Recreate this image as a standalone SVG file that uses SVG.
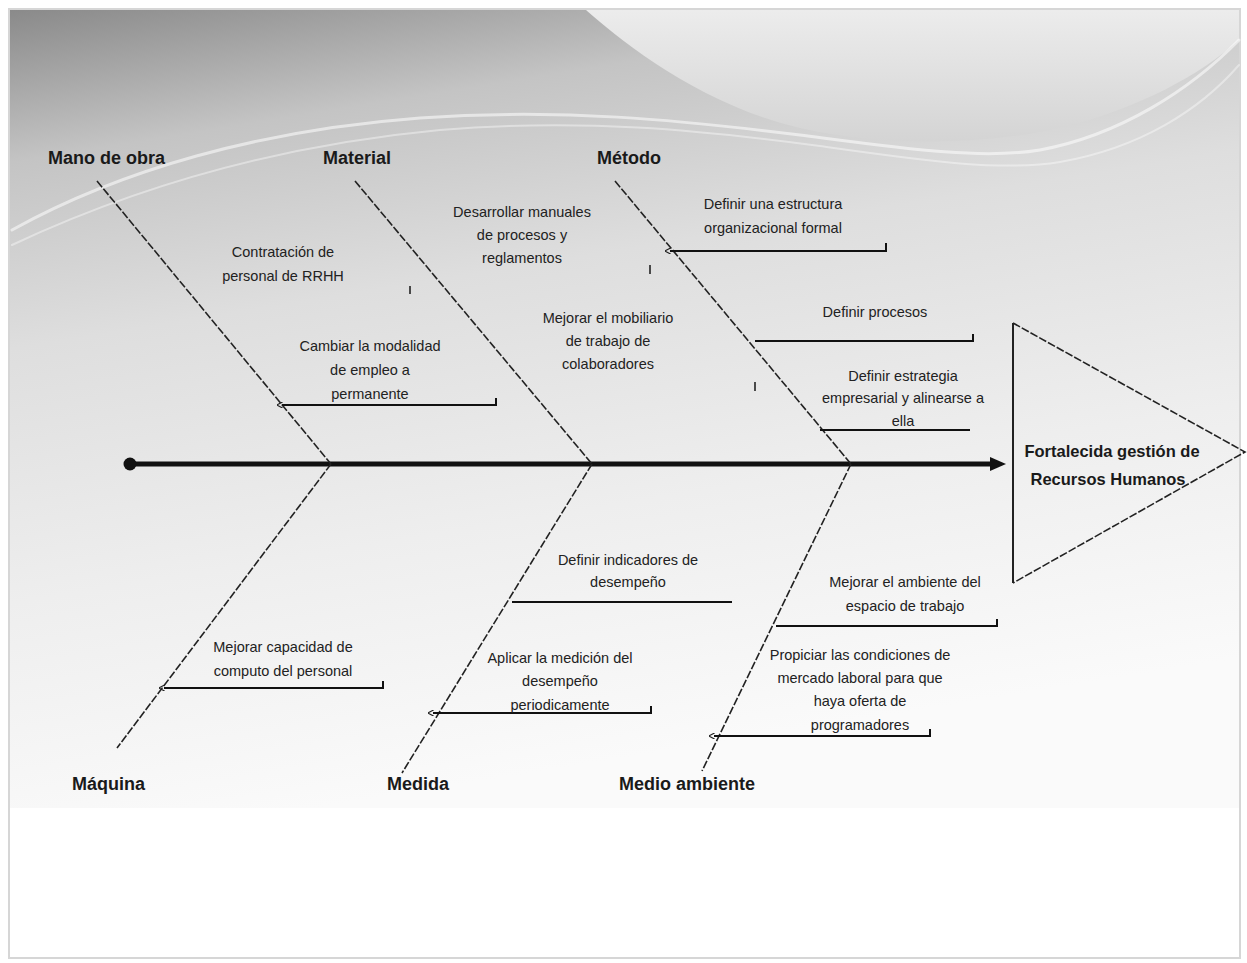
<svg xmlns="http://www.w3.org/2000/svg" width="1247" height="963" viewBox="0 0 1247 963">
<defs>
<style>
.cat{font-family:"Liberation Sans",Arial,sans-serif;font-size:18px;font-weight:bold;fill:#1a1a1a}
.sub{font-family:"Liberation Sans",Arial,sans-serif;font-size:14.5px;fill:#222;text-anchor:middle}
.head{font-family:"Liberation Sans",Arial,sans-serif;font-size:16.5px;font-weight:bold;fill:#1a1a1a;text-anchor:middle}
.bone{stroke:#222;stroke-width:1.6;fill:none;stroke-dasharray:8 2}
.br{stroke:#111;stroke-width:2;fill:none;marker-start:url(#sa)}
.br2{stroke:#111;stroke-width:2;fill:none}
.tick{stroke:#222;stroke-width:1.6}
.streak{fill:none;stroke:#ffffff;stroke-linecap:round}
</style>
<linearGradient id="bg" x1="0" y1="0" x2="0.25" y2="1">
<stop offset="0" stop-color="#8a8a8a"/>
<stop offset="0.18" stop-color="#c4c4c4"/>
<stop offset="0.4" stop-color="#dedede"/>
<stop offset="0.7" stop-color="#eeeeee"/>
<stop offset="1" stop-color="#fafafa"/>
</linearGradient>
<linearGradient id="tr" x1="0" y1="0" x2="0" y2="1">
<stop offset="0" stop-color="#ececec"/>
<stop offset="1" stop-color="#d4d4d4"/>
</linearGradient>
<marker id="sa" viewBox="0 0 10 10" refX="1" refY="5" markerWidth="6" markerHeight="6" orient="auto-start-reverse" markerUnits="userSpaceOnUse">
<path d="M0,0 L10,5 L0,10" fill="none" stroke="#222" stroke-width="2"/>
</marker>
<marker id="ma" viewBox="0 0 16 14" refX="4" refY="7" markerWidth="16" markerHeight="14" orient="auto" markerUnits="userSpaceOnUse">
<path d="M0,0 L16,7 L0,14 Z" fill="#111"/>
</marker>
</defs>

<g id="background">
<rect x="0" y="0" width="1247" height="963" fill="#ffffff"/>
<rect x="9" y="9" width="1231" height="949" fill="#ffffff" stroke="#d6d6d6" stroke-width="2"/>
<rect x="10" y="10" width="1229" height="798" fill="url(#bg)"/>
<path d="M586,10 C620,40 700,105 800,128 C880,146 980,146 1060,128 C1140,108 1200,75 1239,40 L1239,10 Z" fill="url(#tr)"/>
<path class="streak" stroke-width="3" opacity="0.55" d="M12,230 C120,170 260,130 420,118 C560,108 680,120 800,135 C900,148 980,160 1040,150 C1120,135 1190,90 1239,40"/>
<path class="streak" stroke-width="2" opacity="0.4" d="M12,245 C140,185 280,145 440,130 C580,118 700,130 820,146 C920,160 1000,172 1060,162 C1140,148 1200,110 1239,65"/>
</g>

<g id="connectors">
<line x1="130" y1="464" x2="994" y2="464" stroke="#111" stroke-width="5" marker-end="url(#ma)"/>
<circle cx="130" cy="464" r="6.5" fill="#111"/>
<line class="bone" x1="97" y1="181" x2="331" y2="464"/>
<line class="bone" x1="355" y1="181" x2="592" y2="464"/>
<line class="bone" x1="615" y1="181" x2="851" y2="464"/>
<line class="bone" x1="331" y1="464" x2="117" y2="748"/>
<line class="bone" x1="592" y1="464" x2="402" y2="773"/>
<line class="bone" x1="851" y1="464" x2="702" y2="771"/>
<path class="br" d="M282,405 H496 V398"/>
<path class="br" d="M670,251 H886 V243"/>
<path class="br2" d="M755,341 H973 V334"/>
<path class="br2" d="M820,430 H970"/>
<path class="br" d="M164,688 H383 V681"/>
<path class="br2" d="M512,602 H732"/>
<path class="br" d="M433,713 H651 V706"/>
<path class="br2" d="M776,626 H997 V619"/>
<path class="br" d="M714,736 H930 V729"/>
<line class="tick" x1="410" y1="286" x2="410" y2="294"/>
<line class="tick" x1="650" y1="265" x2="650" y2="274"/>
<line class="tick" x1="755" y1="382" x2="755" y2="391"/>
</g>

<g id="head">
<line x1="1013" y1="323" x2="1013" y2="583" stroke="#222" stroke-width="2"/>
<path d="M1013,323 L1245,452 L1013,583" fill="none" stroke="#222" stroke-width="1.6" stroke-dasharray="8 2"/>
<text class="head" x="1112" y="457">Fortalecida gestión de</text>
<text class="head" x="1108" y="485">Recursos Humanos</text>
</g>

<g id="cat-mano"><text class="cat" x="48" y="164">Mano de obra</text></g>
<g id="cat-material"><text class="cat" x="323" y="164">Material</text></g>
<g id="cat-metodo"><text class="cat" x="597" y="164">Método</text></g>
<g id="cat-maquina"><text class="cat" x="72" y="790">Máquina</text></g>
<g id="cat-medida"><text class="cat" x="387" y="790">Medida</text></g>
<g id="cat-medio"><text class="cat" x="619" y="790">Medio ambiente</text></g>

<g id="c1"><text class="sub" x="283" y="257">Contratación de</text><text class="sub" x="283" y="281">personal de RRHH</text></g>
<g id="c2"><text class="sub" x="370" y="351">Cambiar la modalidad</text><text class="sub" x="370" y="375">de empleo a</text><text class="sub" x="370" y="399">permanente</text></g>
<g id="c3"><text class="sub" x="522" y="217">Desarrollar manuales</text><text class="sub" x="522" y="240">de procesos y</text><text class="sub" x="522" y="263">reglamentos</text></g>
<g id="c4"><text class="sub" x="608" y="323">Mejorar el mobiliario</text><text class="sub" x="608" y="346">de trabajo de</text><text class="sub" x="608" y="369">colaboradores</text></g>
<g id="c5"><text class="sub" x="773" y="209">Definir una estructura</text><text class="sub" x="773" y="233">organizacional formal</text></g>
<g id="c6"><text class="sub" x="875" y="317">Definir procesos</text></g>
<g id="c7"><text class="sub" x="903" y="381">Definir estrategia</text><text class="sub" x="903" y="403">empresarial y alinearse a</text><text class="sub" x="903" y="426">ella</text></g>
<g id="c8"><text class="sub" x="283" y="652">Mejorar capacidad de</text><text class="sub" x="283" y="676">computo del personal</text></g>
<g id="c9"><text class="sub" x="628" y="565">Definir indicadores de</text><text class="sub" x="628" y="587">desempeño</text></g>
<g id="c10"><text class="sub" x="560" y="663">Aplicar la medición del</text><text class="sub" x="560" y="686">desempeño</text><text class="sub" x="560" y="710">periodicamente</text></g>
<g id="c11"><text class="sub" x="905" y="587">Mejorar el ambiente del</text><text class="sub" x="905" y="611">espacio de trabajo</text></g>
<g id="c12"><text class="sub" x="860" y="660">Propiciar las condiciones de</text><text class="sub" x="860" y="683">mercado laboral para que</text><text class="sub" x="860" y="706">haya oferta de</text><text class="sub" x="860" y="730">programadores</text></g>
</svg>
